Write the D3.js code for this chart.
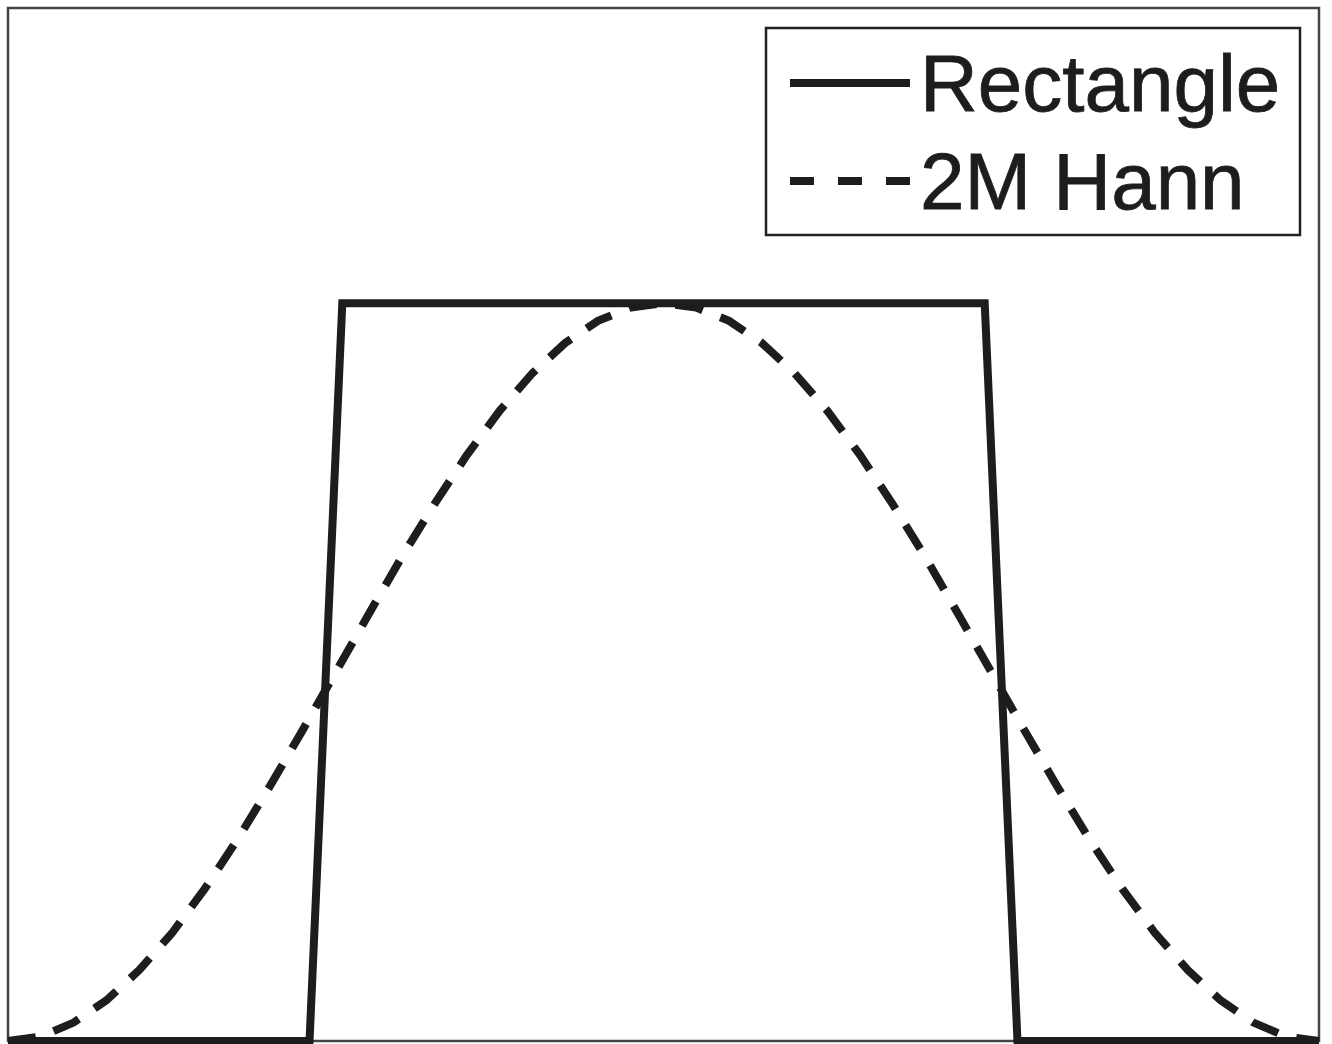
<!DOCTYPE html>
<html>
<head>
<meta charset="utf-8">
<script src="https://cdn.jsdelivr.net/npm/d3@7"></script>
<style>
  body { margin: 0; background: #fff; }
  svg { display: block; }
</style>
</head>
<body>
<script>
// window samples (x = sample index, y = amplitude)
let rectX = [0, 9.2, 10.2, 29.8, 30.8, 40];
let rectY = [0, 0, 1, 1, 0, 0];

let hannX = [0, 1, 2, 3, 4, 5, 6, 7, 8, 9, 10, 11, 12, 13, 14, 15, 16, 17, 18, 19, 20,
    21, 22, 23, 24, 25, 26, 27, 28, 29, 30, 31, 32, 33, 34, 35, 36, 37, 38, 39, 40];
let hannY = [0, 0.006, 0.025, 0.055, 0.096, 0.146, 0.206, 0.273, 0.346, 0.422, 0.5,
    0.578, 0.655, 0.727, 0.794, 0.854, 0.905, 0.946, 0.976, 0.994, 1,
    0.994, 0.976, 0.946, 0.905, 0.854, 0.794, 0.727, 0.655, 0.578, 0.5,
    0.422, 0.346, 0.273, 0.206, 0.146, 0.096, 0.055, 0.025, 0.006, 0];

let legendLabels = ['Rectangle', '2M Hann'];

let W = 1332, H = 1044;
let margin = {top: 8, right: 13, bottom: 3, left: 8},
    width = W - margin.left - margin.right,
    height = H - margin.top - margin.bottom;

let svg = d3.select('body').append('svg')
    .attr('width', W)
    .attr('height', H);

let g = svg.append('g')
    .attr('transform', 'translate(' + margin.left + ',' + margin.top + ')');

let x = d3.scaleLinear().domain([0, 40]).range([0, width]);
let y = d3.scaleLinear().domain([0, 1.4]).range([height, 0]);

let line = d3.line()
    .x(d => x(d[0]))
    .y(d => y(d[1]));

// frame
g.append('rect')
    .attr('x', 0).attr('y', 0)
    .attr('width', width).attr('height', height)
    .style('fill', 'none')
    .style('stroke', '#444')
    .style('stroke-width', 2.5);

let rectData = d3.zip(rectX, rectY);
let hannData = d3.zip(hannX, hannY);

g.append('path')
    .datum(hannData)
    .attr('d', line)
    .style('fill', 'none')
    .style('stroke', '#1e1c1d')
    .style('stroke-width', 8)
    .style('stroke-dasharray', '28,19');

g.append('path')
    .datum(rectData)
    .attr('d', line)
    .style('fill', 'none')
    .style('stroke', '#1e1c1d')
    .style('stroke-width', 8)
    .style('stroke-linejoin', 'miter');

// legend
let leg = svg.append('g').attr('transform', 'translate(766,28)');
leg.append('rect')
    .attr('width', 534).attr('height', 207)
    .style('fill', '#fff')
    .style('stroke', '#222')
    .style('stroke-width', 2.5);

legendLabels.forEach((lab, i) => {
    let cy = 55 + i * 98;
    leg.append('line')
        .attr('x1', 24).attr('x2', 144)
        .attr('y1', cy).attr('y2', cy)
        .style('stroke', '#1e1c1d')
        .style('stroke-width', 8)
        .style('stroke-dasharray', i === 0 ? null : '24,24');
    leg.append('text')
        .attr('x', 154).attr('y', cy + 28)
        .text(lab)
        .style('font-family', 'Liberation Sans, Arial, sans-serif')
        .style('font-size', '80px')
        .style('fill', '#1e1c1d')
        .style('stroke', '#1e1c1d')
        .style('stroke-width', 0.8);
});
</script>
</body>
</html>
